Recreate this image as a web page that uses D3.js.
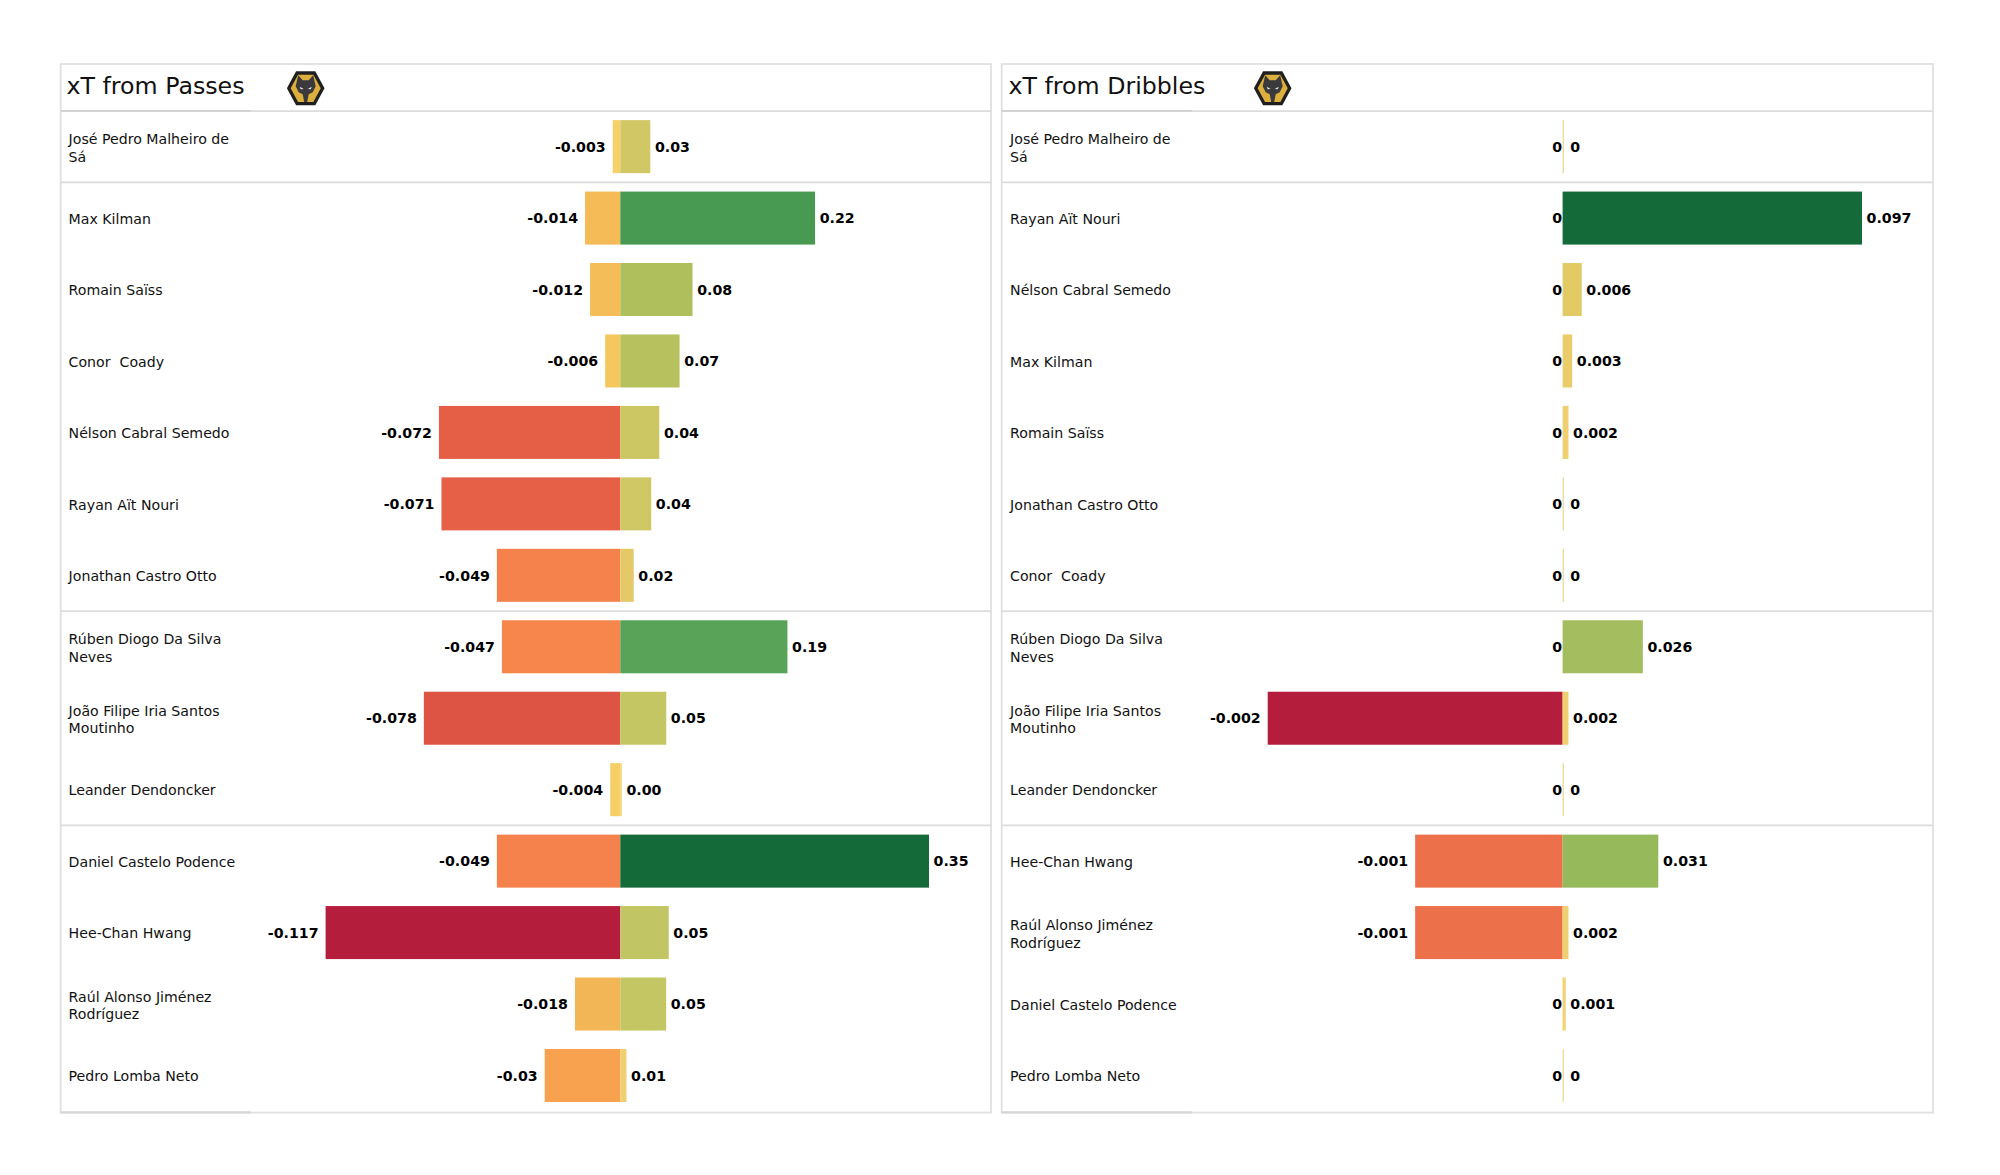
<!DOCTYPE html>
<html>
<head>
<meta charset="utf-8">
<script src="https://cdn.jsdelivr.net/npm/d3@7"></script>
<style>
html,body{margin:0;padding:0;background:#fff}
svg{display:block}
text{font-family:"DejaVu Sans";fill:#111;white-space:pre}
</style>
</head>
<body>
<script>
const passNames = ["José Pedro Malheiro de\nSá","Max Kilman","Romain Saïss","Conor  Coady","Nélson Cabral Semedo","Rayan Aït Nouri","Jonathan Castro Otto","Rúben Diogo Da Silva\nNeves","João Filipe Iria Santos\nMoutinho","Leander Dendoncker","Daniel Castelo Podence","Hee-Chan Hwang","Raúl Alonso Jiménez\nRodríguez","Pedro Lomba Neto"];
const passNeg = [-0.003,-0.014,-0.012,-0.006,-0.072,-0.071,-0.049,-0.047,-0.078,-0.004,-0.049,-0.117,-0.018,-0.03];
const passPos = [0.034,0.2208,0.0819,0.0672,0.0442,0.0351,0.0152,0.1895,0.0521,0.0017,0.35,0.0549,0.052,0.007];
const dribbleNames = ["José Pedro Malheiro de\nSá","Rayan Aït Nouri","Nélson Cabral Semedo","Max Kilman","Romain Saïss","Jonathan Castro Otto","Conor  Coady","Rúben Diogo Da Silva\nNeves","João Filipe Iria Santos\nMoutinho","Leander Dendoncker","Hee-Chan Hwang","Raúl Alonso Jiménez\nRodríguez","Daniel Castelo Podence","Pedro Lomba Neto"];
const dribbleNeg = [0,0,0,0,0,0,0,0,-0.002,0,-0.001,-0.001,0,0];
const dribblePos = [0,0.097,0.0062,0.0031,0.0019,0,0,0.026,0.0019,0,0.031,0.0019,0.001,0];
const groupStarts = [0,1,7,10,14];
const titles = ["xT from Passes","xT from Dribbles"];

const colorStops = [-1,-0.667,-0.615,-0.5,-0.41,-0.256,-0.154,-0.11,-0.05,-0.02,0,0.02,0.042,0.065,0.1,0.126,0.15,0.19,0.234,0.27,0.33,0.54,0.63,1];
const colorValues = ["#b51d3d","#dd5344","#e55f47","#ec7049","#f6844c","#f8a24f","#f3b656","#f5bc56","#f4c85e","#f6d36c","#f5d46c","#f0cf70","#e5c966","#e2ca65","#d0c865","#ccc763","#c4c664","#b7c25e","#aebf5c","#a3bd5e","#93b85a","#58a358","#489a52","#156a3a"];
const color = d3.scaleLinear().domain(colorStops).range(colorValues).clamp(true);

const W = 2000, H = 1175;
const svg = d3.select("body").append("svg").attr("width",W).attr("height",H);

const y = d3.scaleBand().domain(d3.range(14)).range([110.9,1111.2]).paddingInner(0.258).paddingOuter(0.129);

const panels = [
 {x0:60.7,x1:991,zero:620.3,negPx:294.7,posPx:308.7,negMax:0.117,posMax:0.35,names:passNames,neg:passNeg,pos:passPos,fmt:v=>v.toFixed(2),logo:305.7,title:titles[0],tx:66.5,nameX:68.6},
 {x0:1001.7,x1:1933,zero:1562.6,negPx:294.9,posPx:299.4,negMax:0.002,posMax:0.097,names:dribbleNames,neg:dribbleNeg,pos:dribblePos,fmt:v=>String(+v.toFixed(3)),logo:1272.7,title:titles[1],tx:1008.5,nameX:1010.1}
];

panels.forEach(p=>{
  const g = svg.append("g");
  const xNeg = d3.scaleLinear().domain([-p.negMax,0]).range([p.zero-p.negPx,p.zero]);
  const xPos = d3.scaleLinear().domain([0,p.posMax]).range([p.zero,p.zero+p.posPx]);

  g.append("rect").attr("x",p.x0).attr("y",64).attr("width",p.x1-p.x0).attr("height",1048.6)
    .attr("fill","none").attr("stroke","#e0e0e0").attr("stroke-width",1.8);
  const seps = [111.2].concat(groupStarts.slice(1,4).map(i=>y(i)-(y.step()-y.bandwidth())/2));
  g.selectAll("line.sep").data(seps).join("line").attr("class","sep")
    .attr("x1",p.x0).attr("x2",p.x1).attr("y1",d=>d).attr("y2",d=>d)
    .attr("stroke","#dcdcdc").attr("stroke-width",1.7);
  g.append("line").attr("x1",p.x0).attr("x2",p.x0+190).attr("y1",110.9).attr("y2",110.9).attr("stroke","#d2d2d2").attr("stroke-width",1.6);
  g.append("line").attr("x1",p.x0).attr("x2",p.x0+190).attr("y1",1112.4).attr("y2",1112.4).attr("stroke","#d6d6d6").attr("stroke-width",2.2);

  g.append("text").attr("x",p.tx).attr("y",94).attr("font-size",23.7).text(p.title);

  const logo = g.append("g").attr("transform",`translate(${p.logo},88.3)`);
  const hex = s=>[[-18.8,0],[-9.6,-17],[9.6,-17],[18.8,0],[9.6,17],[-9.6,17]].map(d=>[d[0]*s,d[1]*s].join(",")).join(" ");
  logo.append("polygon").attr("points",hex(1)).attr("fill","#1f1f1f");
  logo.append("polygon").attr("points",hex(0.8)).attr("fill","#dcae3c");
  logo.append("polygon").attr("points","-7.5,-13 -3,-8 3,-8 7.5,-13 10,-2 7,4 3,6 1.5,13.6 -1.5,13.6 -3,6 -7,4 -10,-2").attr("fill","#3a3a3c");
  logo.append("polygon").attr("points","-6,-1.5 -2,0.8 -5,1").attr("fill","#e8e8e8");
  logo.append("polygon").attr("points","6,-1.5 2,0.8 5,1").attr("fill","#e8e8e8");

  const rows = d3.range(14);
  const nm = g.selectAll("text.name").data(rows).join("text").attr("class","name").attr("font-size",14.15);
  nm.each(function(i){
    const c = y(i)+y.bandwidth()/2;
    const lines = p.names[i].split("\n");
    const base = lines.length===1 ? [c+5.7] : [c-2.4,c+15];
    d3.select(this).selectAll("tspan").data(lines).join("tspan")
      .attr("x",p.nameX).attr("y",(d,k)=>base[k]).text(d=>d);
  });

  g.selectAll("rect.neg").data(rows.filter(i=>p.neg[i]<0)).join("rect").attr("class","neg")
    .attr("x",i=>xNeg(p.neg[i])).attr("y",i=>y(i)).attr("height",y.bandwidth())
    .attr("width",i=>p.zero-xNeg(p.neg[i]))
    .attr("fill",i=>color(p.neg[i]/p.negMax));
  g.selectAll("rect.pos").data(rows).join("rect").attr("class","pos")
    .attr("x",p.zero).attr("y",i=>y(i)).attr("height",y.bandwidth())
    .attr("width",i=>p.pos[i]>0 ? xPos(p.pos[i])-p.zero : 1.4)
    .attr("fill",i=>p.pos[i]>0 ? color(p.pos[i]/p.posMax) : "#ecdc9e");

  g.selectAll("text.nl").data(rows).join("text").attr("class","nl")
    .attr("font-size",14.2).attr("font-weight","bold").attr("text-anchor","end").style("fill","#000")
    .attr("x",i=>p.neg[i]<0 ? xNeg(p.neg[i])-7 : p.zero-0.6)
    .attr("y",i=>y(i)+y.bandwidth()/2+5.2)
    .text(i=>String(p.neg[i]));
  g.selectAll("text.pl").data(rows).join("text").attr("class","pl")
    .attr("font-size",14.2).attr("font-weight","bold").style("fill","#000")
    .attr("x",i=>p.fmt(p.pos[i])==="0" ? p.zero+7.6 : xPos(p.pos[i])+4.6)
    .attr("y",i=>y(i)+y.bandwidth()/2+5.2)
    .text(i=>p.fmt(p.pos[i]));
});
</script>
</body>
</html>
